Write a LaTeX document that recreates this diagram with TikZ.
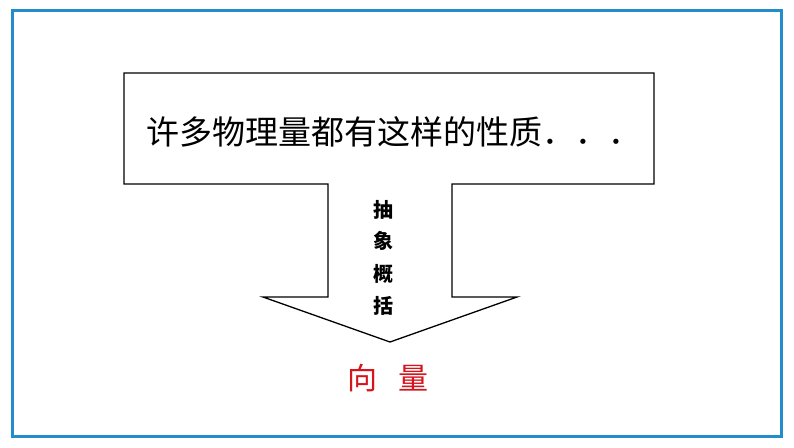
\documentclass[tikz,border=0pt]{standalone}
\usepackage{fontspec}
\newfontfamily\cjk{Noto Sans CJK SC}
\definecolor{bordblue}{RGB}{34,140,205}
\definecolor{redtxt}{RGB}{214,20,28}
\tikzset{
  frame/.style={draw=bordblue, line width=3pt},
  callout/.style={draw=black, line width=1.3pt, line join=miter, fill=white},
  maintext/.style={font=\cjk\fontsize{33}{38}\selectfont, inner sep=0pt, anchor=west},
  vchar/.style={font=\cjk\bfseries\fontsize{20}{22}\selectfont, inner sep=0pt},
  redchar/.style={font=\cjk\fontsize{30}{34}\selectfont, text=redtxt, inner sep=0pt}
}
\begin{document}
\begin{tikzpicture}[x=1pt,y=-1pt]
\useasboundingbox (0,0) rectangle (794,447);
\fill[white] (0,0) rectangle (794,447);
\draw[frame] (12,10.5) rectangle (781.5,436.5);
\draw[callout] (124,73) -- (654,73) -- (654,184) -- (452,184) -- (452,297) -- (517,297)
  -- (390,342) -- (263,297) -- (328,297) -- (328,184) -- (124,184) -- cycle;
\node[maintext] (t) at (146,132) {许多物理量都有这样的性质．．．};
\node[vchar] (v1) at (383,210) {抽};
\node[vchar] (v2) at (383,241) {象};
\node[vchar] (v3) at (383,274) {概};
\node[vchar] (v4) at (383,306) {括};
\node[redchar] (r1) at (362,378) {向};
\node[redchar] (r2) at (413,378) {量};
\end{tikzpicture}
\end{document}
